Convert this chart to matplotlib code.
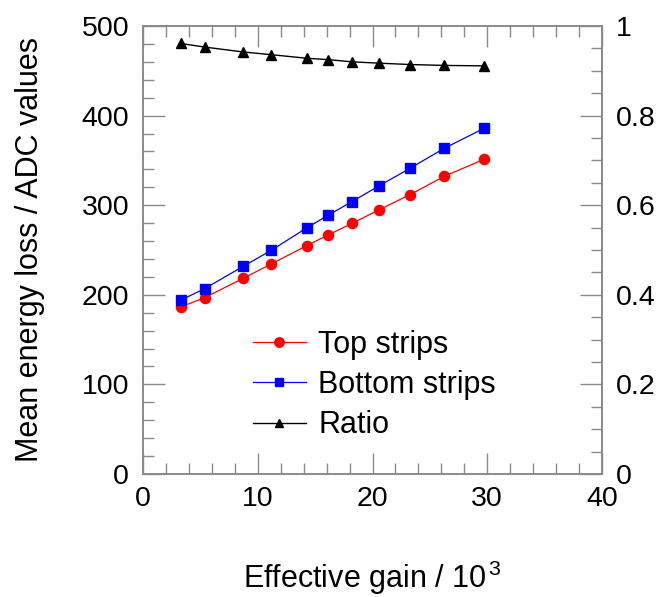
import matplotlib
matplotlib.use("Agg")
import matplotlib.pyplot as plt
from matplotlib.ticker import MultipleLocator, FuncFormatter
from matplotlib.lines import Line2D

plt.rcParams['font.family'] = ['Liberation Sans', 'DejaVu Sans']
plt.rcParams['mathtext.fontset'] = 'custom'
plt.rcParams['mathtext.rm'] = 'Liberation Sans'
plt.rcParams['mathtext.it'] = 'Liberation Sans'

gain = [3.28, 5.37, 8.74, 11.18, 14.26, 16.12, 18.21, 20.6, 23.27, 26.26, 29.72]
top_strips = [186.4, 196.8, 218.4, 234.4, 254.8, 266.7, 279.7, 295.0, 311.8, 332.3, 351.2]
bottom_strips = [193.9, 206.9, 231.8, 249.6, 274.6, 288.7, 304.0, 321.8, 341.2, 363.5, 385.8]
ratio = [0.961, 0.953, 0.942, 0.936, 0.928, 0.925, 0.920, 0.917, 0.914, 0.912, 0.911]

fig = plt.figure(figsize=(6.59, 5.97), dpi=100)
ax = fig.add_axes([143/659, 1-474/597, (602-143)/659, (474-26)/597])
ax2 = ax.twinx()

GREY = '#8a8a8a'
TFS = 20.5
LFS = 22

ax.plot(gain, top_strips, color='red', lw=0.9, marker='o', ms=7.3, mec='red', mfc='red', zorder=3)
ax.plot(gain, bottom_strips, color='blue', lw=0.9, marker='s', ms=6.6, mec='blue', mfc='blue', zorder=3)
ax2.plot(gain, ratio, color='black', lw=1.0, marker='^', ms=7.0, mec='black', mfc='black', zorder=3)

ax.set_xlim(0, 40)
ax.set_ylim(0, 500)
ax2.set_ylim(0, 1)

ax.xaxis.set_major_locator(MultipleLocator(10))
ax.xaxis.set_minor_locator(MultipleLocator(2))
ax.yaxis.set_major_locator(MultipleLocator(100))
ax.yaxis.set_minor_locator(MultipleLocator(20))
ax2.yaxis.set_major_locator(MultipleLocator(0.2))
ax2.yaxis.set_minor_locator(MultipleLocator(0.05))


def rfmt(v, p):
    v = round(v, 3)
    if abs(v) < 1e-9:
        return '0'
    if abs(v - 1) < 1e-9:
        return '1'
    return f'{v:.1f}'


ax2.yaxis.set_major_formatter(FuncFormatter(rfmt))

for a in (ax, ax2):
    for s in a.spines.values():
        s.set_color(GREY)
        s.set_linewidth(1.2)

ax.tick_params(axis='x', which='both', direction='in', top=True, bottom=True, color=GREY,
               labelsize=TFS, pad=9, width=1.0)
ax.tick_params(axis='x', which='major', length=15)
ax.tick_params(axis='x', which='minor', length=8)
ax.tick_params(axis='y', which='both', direction='in', left=True, right=False, color=GREY,
               labelsize=TFS, pad=10, width=1.0)
ax.tick_params(axis='y', which='major', length=16)
ax.tick_params(axis='y', which='minor', length=8)
ax2.tick_params(axis='y', which='both', direction='in', right=True, left=False, color=GREY,
                labelsize=TFS, pad=10, width=1.0)
ax2.tick_params(axis='y', which='major', length=16)
ax2.tick_params(axis='y', which='minor', length=8)

ax.set_ylabel('Mean energy loss / ADC values', fontsize=LFS, labelpad=26)
ax.set_xlabel(r'Effective gain / 10$^{\,3}$', fontsize=LFS, labelpad=33)

handles = [
    Line2D([], [], color='red', lw=0.9, marker='o', ms=6.8, mfc='red', mec='red'),
    Line2D([], [], color='blue', lw=0.9, marker='s', ms=6.2, mfc='blue', mec='blue'),
    Line2D([], [], color='black', lw=1.0, marker='^', ms=5.5, mfc='black', mec='black'),
]
leg = ax.legend(handles, ['Top strips', 'Bottom strips', 'Ratio'], loc='center left',
                bbox_to_anchor=((253-143)/459, (474-385)/448), frameon=False, fontsize=LFS,
                handlelength=1.73, handletextpad=0.4, labelspacing=0.34, borderpad=0,
                borderaxespad=0)

fig.savefig('out.png', dpi=100)
